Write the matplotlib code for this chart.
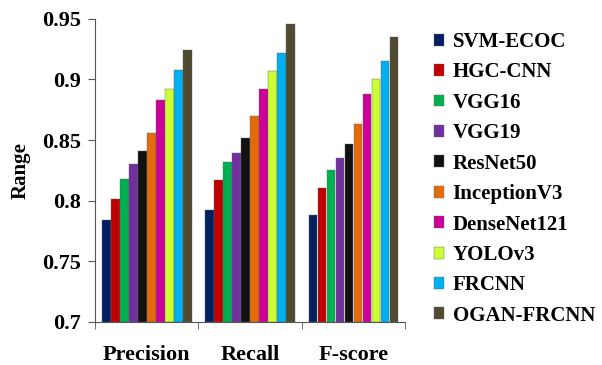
import matplotlib
matplotlib.use("Agg")
import matplotlib.pyplot as plt
import numpy as np

# Данные
metrics = ["Precision", "Recall", "F-score"]
models = ["SVM-ECOC", "HGC-CNN", "VGG16", "VGG19", "ResNet50",
          "InceptionV3", "DenseNet121", "YOLOv3", "FRCNN", "OGAN-FRCNN"]
precision = [0.784, 0.801, 0.818, 0.830, 0.841, 0.856, 0.883, 0.892, 0.908, 0.924]
recall = [0.792, 0.817, 0.832, 0.839, 0.852, 0.870, 0.892, 0.907, 0.922, 0.946]
fscore = [0.788, 0.810, 0.825, 0.835, 0.847, 0.863, 0.888, 0.900, 0.915, 0.935]
colors = ["#002060", "#C00000", "#00B050", "#7030A0", "#111111",
          "#E36C09", "#CC0099", "#CCFF33", "#00B0F0", "#4F4A30"]

values = np.array([precision, recall, fscore])  # строки - метрики

plt.rcParams["font.family"] = ["Liberation Serif", "DejaVu Serif"]
plt.rcParams["font.weight"] = "bold"

fig = plt.figure(figsize=(6.02, 3.65), dpi=100)
ax = fig.add_axes([0.158, 0.119, 0.515, 0.829])

x = np.arange(len(metrics))
width = 0.087
for i, (name, color) in enumerate(zip(models, colors)):
    offset = (i - (len(models) - 1) / 2) * width
    ax.bar(x + offset, values[:, i] - 0.7, width * 0.95, bottom=0.7,
           color=color, edgecolor="#666666", linewidth=0.3, label=name)

ax.set_xlim(-0.5, 2.5)
ax.set_ylim(0.7, 0.95)
ax.set_yticks([0.7, 0.75, 0.8, 0.85, 0.9, 0.95])
ax.set_yticklabels(["0.7", "0.75", "0.8", "0.85", "0.9", "0.95"])
ax.set_xticks(x)
ax.set_xticklabels(metrics)
ax.set_xticks([-0.5, 0.5, 1.5, 2.5], minor=True)
ax.tick_params(axis="x", which="major", length=0, pad=17, labelsize=16)
ax.tick_params(axis="x", which="minor", length=5, direction="out", color="#555555")
ax.tick_params(axis="y", length=5, direction="out", color="#555555", labelsize=16, pad=5)
for side in ["top", "right"]:
    ax.spines[side].set_visible(False)
for side in ["left", "bottom"]:
    ax.spines[side].set_color("#555555")
    ax.spines[side].set_linewidth(0.8)
ax.set_ylabel("Range", fontsize=15, fontweight="bold", labelpad=8)

fig.legend(loc="upper left", bbox_to_anchor=(0.707, 0.935), frameon=False,
           fontsize=15, handlelength=0.5, handleheight=0.5, handletextpad=0.4,
           labelspacing=0.50, borderaxespad=0)

fig.savefig("out.png", dpi=100)
